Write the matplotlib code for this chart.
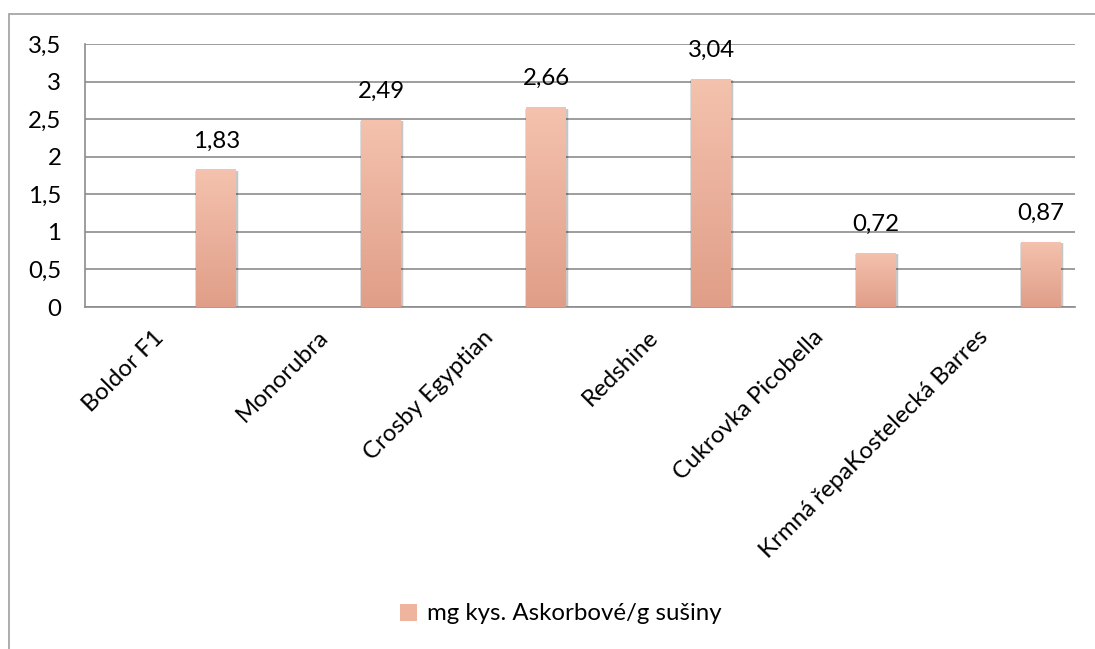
import numpy as np
import matplotlib
matplotlib.use("Agg")
import matplotlib.pyplot as plt
import matplotlib.transforms as mtransforms
from matplotlib.patches import Rectangle, Patch

# data
varieties = ["Boldor F1", "Monorubra", "Crosby Egyptian", "Redshine",
             "Cukrovka Picobella", "Krmná řepaKostelecká Barres"]
ascorbic = [1.83, 2.49, 2.66, 3.04, 0.72, 0.87]
series_name = "mg kys. Askorbové/g sušiny"
y_ticks = [0, 0.5, 1, 1.5, 2, 2.5, 3, 3.5]

plt.rcParams['font.family'] = ['Lato', 'DejaVu Sans']
FS = 17.3

W, H = 1095, 649
fig = plt.figure(figsize=(W / 100, H / 100), dpi=100)

# outer chart border (runs off the right/bottom edge like the original)
fig.patches.append(Rectangle((9 / W, -0.1), 1.2, 1 - 14 / H + 0.1,
                             transform=fig.transFigure, fill=False,
                             edgecolor='#a6a6a6', linewidth=1.3))

ax = fig.add_axes([85 / W, 1 - 307 / H, (1075 - 85) / W, (307 - 44) / H])

x = np.arange(len(varieties))
offset = 0.295
width = 0.242
top_col = np.array([244, 194, 174]) / 255
bot_col = np.array([224, 158, 136]) / 255
grad = np.linspace(0, 1, 256)[:, None, None]
grad_img = top_col * (1 - grad) + bot_col * grad

# soft shadow under the bars
for k, a in zip([4, 3, 2], [0.06, 0.08, 0.10]):
    ax.bar(x + offset + 0.004, ascorbic, width + k * 0.006, bottom=-0.02,
           color='black', alpha=a, linewidth=0, zorder=2)

bars = ax.bar(x + offset, ascorbic, width, color=bot_col, linewidth=0, zorder=3)
for b in bars:
    x0, y0 = b.get_x(), b.get_y()
    im = ax.imshow(grad_img, extent=(x0, x0 + b.get_width(), y0, y0 + b.get_height()),
                   aspect='auto', zorder=3.5, interpolation='bicubic')
    im.set_clip_path(b)

for xi, v in zip(x, ascorbic):
    ax.annotate(f"{v:.2f}".replace('.', ','), xy=(xi + offset, v),
                xytext=(0, 13), textcoords='offset points',
                ha='center', va='bottom', fontsize=FS, zorder=5)

ax.set_xlim(-0.5, len(varieties) - 0.5)
ax.set_ylim(0, 3.5)
ax.set_yticks(y_ticks)
ax.set_yticklabels([f"{t:g}".replace('.', ',') for t in y_ticks], fontsize=FS)
ax.set_xticks(x)
ax.set_xticklabels(varieties, rotation=45, ha='right', fontsize=FS)
shift = mtransforms.ScaledTranslation(5 / 100, 0, fig.dpi_scale_trans)
for lab in ax.get_xticklabels():
    lab.set_transform(lab.get_transform() + shift)

ax.tick_params(axis='y', length=0, pad=17)
ax.tick_params(axis='x', length=0, pad=14)
ax.yaxis.grid(True, color='#8c8c8c', linewidth=1.2)
ax.set_axisbelow(True)
for s in ['top', 'right']:
    ax.spines[s].set_visible(False)
for s in ['left', 'bottom']:
    ax.spines[s].set_color('#8c8c8c')
    ax.spines[s].set_linewidth(1.2)

fig.legend(handles=[Patch(facecolor='#eeb49e', edgecolor='none', label=series_name)],
           loc='center', bbox_to_anchor=(561 / W, 1 - 614 / H), frameon=False,
           fontsize=FS, handlelength=0.7, handleheight=0.7, handletextpad=0.4)

fig.savefig("out.png", dpi=100)
